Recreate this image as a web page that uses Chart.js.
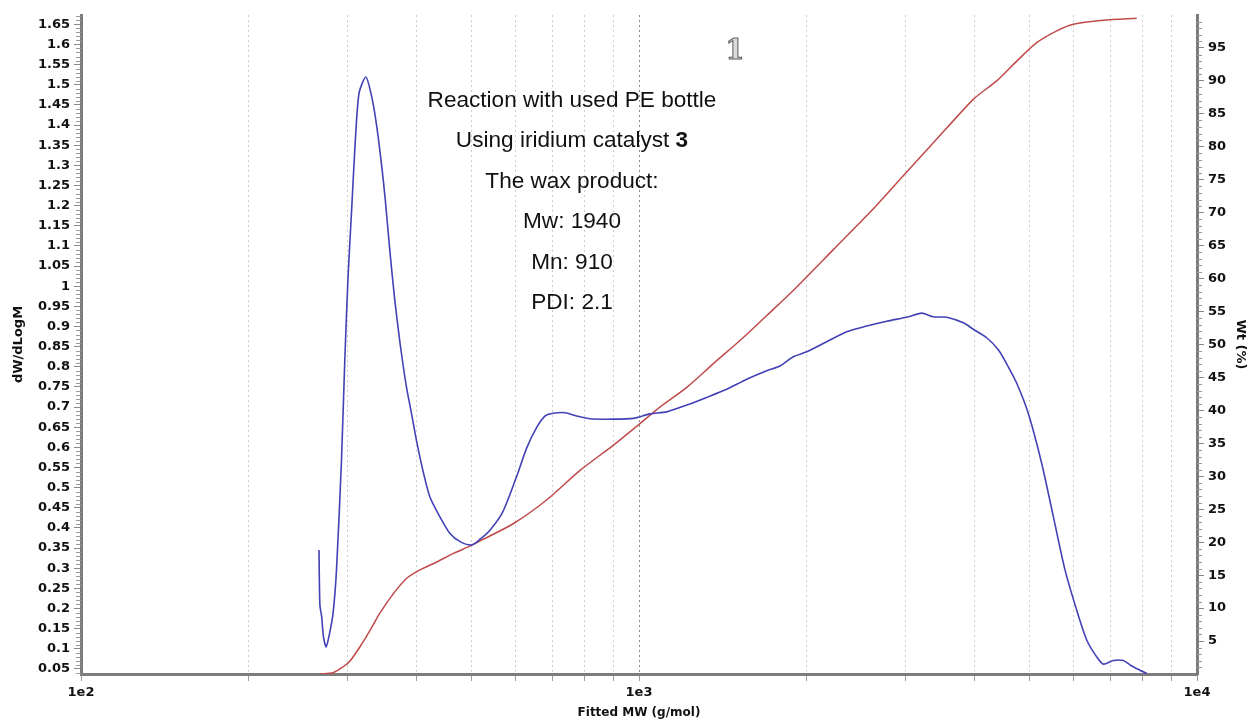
<!DOCTYPE html>
<html>
<head>
<meta charset="utf-8">
<title>GPC trace</title>
<script src="https://cdn.jsdelivr.net/npm/chart.js@4.4.1/dist/chart.umd.min.js"></script>
<style>
  html, body { margin: 0; padding: 0; background: #fff; }
  #wrap { position: relative; width: 1252px; height: 720px; }
</style>
</head>
<body>
<div id="wrap"><canvas id="gpcChart"></canvas></div>
<script>
// Differential distribution (left axis)
const blueMw = [267, 268, 270, 272, 275, 279, 283, 287, 293, 297,
  301, 305.5, 310, 315, 324, 332, 339, 346, 351, 358,
  365, 373, 383, 391, 400, 411, 422, 440, 458, 478,
  501, 519, 541, 570, 604, 629, 656, 679, 698, 737,
  773, 817, 899, 977, 1046, 1121, 1218, 1322, 1436, 1560,
  1694, 1789, 1890, 1998, 2170, 2356, 2559, 2780, 3018, 3211,
  3369, 3560, 3813, 3973, 4199, 4405, 4590, 4753, 4986, 5269,
  5528, 5800, 6087, 6344, 6611, 6794, 7079, 7377, 7584, 7904, 8126];
const blueDw = [0.345, 0.209, 0.179, 0.129, 0.105, 0.139, 0.189, 0.296, 0.569, 0.817,
  1.023, 1.189, 1.355, 1.479, 1.519, 1.469, 1.395, 1.296, 1.214, 1.082,
  0.966, 0.859, 0.750, 0.685, 0.611, 0.536, 0.477, 0.427, 0.387, 0.366,
  0.358, 0.372, 0.395, 0.440, 0.529, 0.598, 0.650, 0.678, 0.684, 0.686,
  0.678, 0.671, 0.670, 0.672, 0.683, 0.688, 0.705, 0.724, 0.744, 0.769,
  0.790, 0.802, 0.825, 0.837, 0.862, 0.887, 0.901, 0.913, 0.923, 0.933,
  0.924, 0.923, 0.909, 0.893, 0.872, 0.842, 0.800, 0.759, 0.684, 0.560,
  0.428, 0.296, 0.196, 0.122, 0.080, 0.062, 0.071, 0.071, 0.060, 0.047, 0.039];

// Cumulative weight fraction (right axis)
const redMw = [268, 283, 295, 303, 316, 330, 343, 363, 383, 405,
  434, 465, 498, 519, 595, 683, 784, 899, 1004, 1090,
  1218, 1359, 1517, 1694, 1890, 2230, 2630, 2976, 3369, 3973,
  4375, 4753, 5161, 5607, 6002, 6794, 7797];
const redWt = [0, 0.2, 1.1, 1.9, 4.1, 6.7, 9.2, 12.2, 14.5, 15.8,
  17.0, 18.3, 19.4, 20.2, 22.8, 26.4, 30.9, 34.7, 38.0, 40.5,
  43.5, 47.1, 50.6, 54.4, 58.2, 64.4, 70.6, 75.6, 80.6, 87.2,
  90.0, 93.0, 95.8, 97.6, 98.6, 99.2, 99.5];

// Axis ticks
const xTickValues = [100, 200, 300, 400, 500, 600, 700, 800, 900,
  1000, 2000, 3000, 4000, 5000, 6000, 7000, 8000, 9000, 10000];
const xTickLabels = ['1e2', '', '', '', '', '', '', '', '',
  '1e3', '', '', '', '', '', '', '', '', '1e4'];
const leftTickValues = [0.05, 0.1, 0.15, 0.2, 0.25, 0.3, 0.35, 0.4, 0.45, 0.5,
  0.55, 0.6, 0.65, 0.7, 0.75, 0.8, 0.85, 0.9, 0.95, 1,
  1.05, 1.1, 1.15, 1.2, 1.25, 1.3, 1.35, 1.4, 1.45, 1.5, 1.55, 1.6, 1.65];
const rightTickValues = [5, 10, 15, 20, 25, 30, 35, 40, 45, 50,
  55, 60, 65, 70, 75, 80, 85, 90, 95];

// Note block, each line split into plain / bold parts
const noteLines = [
  [{ text: 'Reaction with used PE bottle', bold: false }],
  [{ text: 'Using iridium catalyst ', bold: false }, { text: '3', bold: true }],
  [{ text: 'The wax product:', bold: false }],
  [{ text: 'Mw: 1940', bold: false }],
  [{ text: 'Mn: 910', bold: false }],
  [{ text: 'PDI: 2.1', bold: false }]
];
const sampleNumber = '1';

const tickFont = { family: '"DejaVu Sans", Verdana, sans-serif', size: 13, weight: 'bold' };
const titleFont = { family: '"DejaVu Sans", Verdana, sans-serif', size: 13, weight: 'bold' };
const axisGrey = '#7c7c7c';

// small unlabeled ticks between the labelled ones
const minorTicks = {
  id: 'minorTicks',
  afterDraw(chart) {
    const { ctx, scales: { y, y1 } } = chart;
    ctx.save();
    ctx.strokeStyle = '#999';
    ctx.lineWidth = 1;
    ctx.beginPath();
    for (let k = 4; k <= 167; k++) {
      if (k % 5 === 0) continue;
      const py = Math.round(y.getPixelForValue(k / 100)) + 0.5;
      ctx.moveTo(y.right - 5, py);
      ctx.lineTo(y.right, py);
    }
    for (let k = 1; k <= 99; k++) {
      if (k % 5 === 0) continue;
      const py = Math.round(y1.getPixelForValue(k)) + 0.5;
      ctx.moveTo(y1.left, py);
      ctx.lineTo(y1.left + 5, py);
    }
    ctx.stroke();
    ctx.restore();
  }
};

// text block and sample number inside the plot
const notes = {
  id: 'notes',
  afterDraw(chart) {
    const ctx = chart.ctx;
    ctx.save();
    ctx.fillStyle = '#111';
    ctx.textAlign = 'left';
    ctx.textBaseline = 'alphabetic';
    const fontFor = bold => (bold ? 'bold ' : '') + '22.6px "Liberation Sans", Arial, sans-serif';
    noteLines.forEach((parts, i) => {
      let total = 0;
      parts.forEach(p => {
        ctx.font = fontFor(p.bold);
        total += ctx.measureText(p.text).width;
      });
      let x = 572 - total / 2;
      const y = 107 + i * 40.4;
      parts.forEach(p => {
        ctx.font = fontFor(p.bold);
        ctx.fillText(p.text, x, y);
        x += ctx.measureText(p.text).width;
      });
    });

    ctx.font = 'bold 27px "DejaVu Serif", serif';
    ctx.textAlign = 'center';
    ctx.fillStyle = '#dcdcdc';
    ctx.strokeStyle = '#5a5a5a';
    ctx.lineWidth = 1;
    ctx.fillText(sampleNumber, 735, 59);
    ctx.strokeText(sampleNumber, 735, 59);
    ctx.restore();
  }
};

new Chart(document.getElementById('gpcChart'), {
  type: 'line',
  data: {
    datasets: [
      {
        label: 'dW/dLogM',
        data: blueMw.map((m, i) => ({ x: m, y: blueDw[i] })),
        yAxisID: 'y',
        borderColor: '#4242b6',
        borderWidth: 1.6,
        pointRadius: 0,
        tension: 0.25,
        fill: false
      },
      {
        label: 'Wt (%)',
        data: redMw.map((m, i) => ({ x: m, y: redWt[i] })),
        yAxisID: 'y1',
        borderColor: '#c04a4a',
        borderWidth: 1.5,
        pointRadius: 0,
        tension: 0.25,
        fill: false
      }
    ]
  },
  options: {
    responsive: true,
    maintainAspectRatio: false,
    animation: false,
    layout: { padding: { top: 15, left: 0, right: 0, bottom: 0 } },
    plugins: {
      legend: { display: false },
      tooltip: { enabled: false }
    },
    scales: {
      x: {
        type: 'logarithmic',
        min: 100,
        max: 10000,
        afterBuildTicks: s => { s.ticks = xTickValues.map(v => ({ value: v })); },
        afterFit: s => { s.height = 46; },
        ticks: {
          autoSkip: false,
          maxRotation: 0,
          padding: 4,
          color: '#111',
          font: tickFont,
          callback: (v, i) => xTickLabels[i]
        },
        grid: {
          color: c => {
            const v = c.tick && c.tick.value;
            if (v === 100 || v === 10000) return 'rgba(0,0,0,0)';
            return v === 1000 ? '#8a8a8a' : '#cdcdcd';
          },
          lineWidth: 1,
          tickLength: 7,
          tickColor: '#999'
        },
        border: { display: true, color: axisGrey, width: 3, dash: [2, 3] },
        title: {
          display: true,
          text: 'Fitted MW (g/mol)',
          color: '#111',
          font: { family: '"DejaVu Sans", Verdana, sans-serif', size: 12, weight: 'bold' },
          padding: 0
        }
      },
      y: {
        type: 'linear',
        position: 'left',
        min: 0.0375,
        max: 1.673,
        afterBuildTicks: s => { s.ticks = leftTickValues.map(v => ({ value: v })); },
        afterFit: s => { s.width = 81; },
        ticks: {
          autoSkip: false,
          padding: 4,
          color: '#111',
          font: tickFont,
          callback: v => String(v)
        },
        grid: { drawOnChartArea: false, tickLength: 7, tickColor: '#888' },
        border: { display: true, color: axisGrey, width: 3 },
        title: {
          display: true,
          text: 'dW/dLogM',
          color: '#111',
          font: titleFont,
          padding: { top: 11, bottom: 0 }
        }
      },
      y1: {
        type: 'linear',
        position: 'right',
        min: 0,
        max: 100,
        afterBuildTicks: s => { s.ticks = rightTickValues.map(v => ({ value: v })); },
        afterFit: s => { s.width = 55; },
        ticks: {
          autoSkip: false,
          padding: 4,
          color: '#111',
          font: tickFont,
          callback: v => String(v)
        },
        grid: { drawOnChartArea: false, tickLength: 7, tickColor: '#888' },
        border: { display: true, color: axisGrey, width: 3 },
        title: {
          display: true,
          text: 'Wt (%)',
          color: '#111',
          font: titleFont,
          padding: { top: 4, bottom: 0 }
        }
      }
    }
  },
  plugins: [minorTicks, notes]
});
</script>
</body>
</html>
